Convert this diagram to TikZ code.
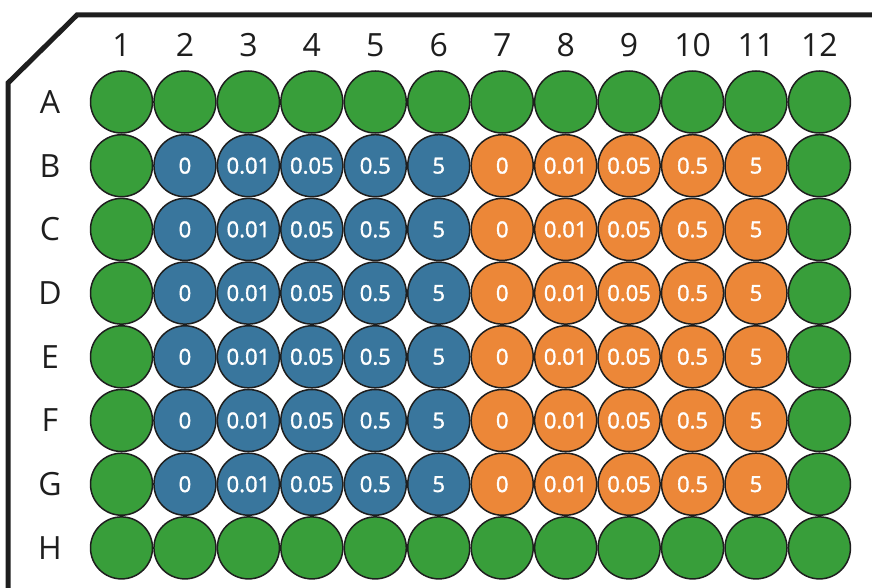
\documentclass[tikz,border=0pt]{standalone}
\usepackage{fontspec}
\setmainfont{Open Sans}
\newfontfamily\wellfont{Open Sans}[FakeBold=1.6]
\usetikzlibrary{positioning}
\definecolor{WellGreen}{RGB}{56,158,58}
\definecolor{WellBlue}{RGB}{57,118,157}
\definecolor{WellOrange}{RGB}{236,135,56}
\definecolor{PlateInk}{RGB}{30,30,30}
\tikzset{
  well/.style   = {circle, draw=PlateInk, line width=1.5pt, minimum size=62pt,
                   inner sep=0pt, text=white, font=\fontsize{22}{24}\selectfont\wellfont},
  ctrl/.style   = {well, fill=WellGreen},
  drugA/.style  = {well, fill=WellBlue},
  drugB/.style  = {well, fill=WellOrange},
  lbl/.style    = {font=\fontsize{32}{36}\selectfont, text=PlateInk}
}

\begin{document}
\begin{tikzpicture}[x=1pt, y=-1pt]
\useasboundingbox (0,0) rectangle (872,588);
% plate outline
\draw[line width=5pt, PlateInk] (885,15) -- (77,15) -- (8,83) -- (8,600);
% column numbers
\foreach \c in {1,...,12}
  \node[lbl] (col\c) at ({121.5+63.45*(\c-1)},45) {\c};
% rows
\foreach \r [count=\j] in {A,B,C,D,E,F,G,H} {
  \node[lbl] (row\r) at (50,{102+63.7*(\j-1)}) {\r};
  \node[ctrl] (\r1) at (121.5,{102+63.7*(\j-1)}) {};
  \node[ctrl] (\r12) at ({121.5+63.45*11},{102+63.7*(\j-1)}) {};
}
% outer rows: controls
\foreach \r [count=\j from 0] in {A,H}
  \foreach \c in {2,...,11}
    \node[ctrl] (\r\c) at ({121.5+63.45*(\c-1)},{102+63.7*7*\j}) {};
% treated wells
\foreach \r [count=\j from 1] in {B,C,D,E,F,G}
  \foreach \v [count=\k from 1] in {0,0.01,0.05,0.5,5} {
    \node[drugA] (\r\k) at ({121.5+63.45*\k},{102+63.7*\j}) {\v};
    \node[drugB] (\r\k b) at ({121.5+63.45*(\k+5)},{102+63.7*\j}) {\v};
  }
\end{tikzpicture}
\end{document}
